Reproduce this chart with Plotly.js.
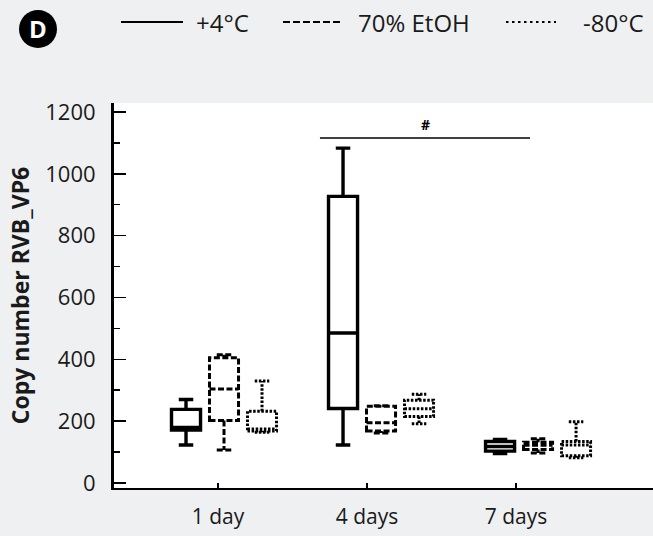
<!DOCTYPE html>
<html><head><meta charset="utf-8">
<script src="https://cdn.plot.ly/plotly-3.0.1.min.js"></script>
<style>html,body{margin:0;padding:0;background:#eff0f2;} #chart{width:653px;height:536px;}</style>
</head><body><div id="chart"></div>
<script>
// ---- data ----
const days = ['1 day', '4 days', '7 days'];
const seriesNames = ['+4°C', '70% EtOH', '-80°C'];

const lower_4C   = [123, 123, 95];
const q1_4C      = [171, 241, 103];
const median_4C  = [180, 485, 118];
const q3_4C      = [238, 927, 134];
const upper_4C   = [270, 1083, 141];

const lower_EtOH  = [107, 162, 97];
const q1_EtOH     = [202, 168, 108];
const median_EtOH = [304, 195, 122];
const q3_EtOH     = [405, 248, 132];
const upper_EtOH  = [415, 250, 143];

const lower_80   = [164, 192, 82];
const q1_80      = [168, 215, 88];
const median_80  = [175, 240, 123];
const q3_80      = [232, 268, 134];
const upper_80   = [330, 287, 198];

const sigLabel = '#';

// ---- styling ----
const FONT = 'Open Sans, sans-serif';
const W = 653, H = 536;
const M = {l: 114, r: 0, t: 103, b: 48};
const PW = W - M.l - M.r, PH = H - M.t - M.b;
const px = v => (v - M.l) / PW;       // pixel -> paper x
const py = v => (H - M.b - v) / PH;   // pixel -> paper y

const dashes = ['none', '6px,2.5px', '2.5px,1.6px'];
const widths = [3.4, 3, 3];

function boxTrace(i, lf, q1, med, q3, uf) {
  return {
    type: 'box', name: seriesNames[i], x: days,
    lowerfence: lf, q1: q1, median: med, q3: q3, upperfence: uf,
    line: {color: 'black', width: widths[i]}, fillcolor: 'white',
    whiskerwidth: 0.5, boxpoints: false, showlegend: false, hoverinfo: 'skip'
  };
}

const data = [
  boxTrace(0, lower_4C, q1_4C, median_4C, q3_4C, upper_4C),
  boxTrace(1, lower_EtOH, q1_EtOH, median_EtOH, q3_EtOH, upper_EtOH),
  boxTrace(2, lower_80, q1_80, median_80, q3_80, upper_80),
  {type: 'scatter', x: [], y: [], xaxis: 'x2', yaxis: 'y', showlegend: false, hoverinfo: 'skip'}
];

// legend drawn as shapes + annotations
const legendY = 22;
const legendItems = [
  {x0: 121, x1: 183, tx: 194, dash: 'solid'},
  {x0: 283, x1: 342, tx: 356, dash: '7px,3px'},
  {x0: 506, x1: 556, tx: 581, dash: '2.5px,3.5px'}
];

const shapes = [
  {type: 'line', xref: 'x', yref: 'y', x0: 0.611, x1: 1.949, y0: 1116, y1: 1116,
   line: {color: 'black', width: 1.5}},
  {type: 'circle', xref: 'paper', yref: 'paper', x0: px(19), x1: px(57), y0: py(48), y1: py(10),
   fillcolor: 'black', line: {color: 'black', width: 0}}
];
const annotations = [
  {xref: 'x', yref: 'y', x: 1.28, y: 1116, yanchor: 'bottom', yshift: 2, text: '<b>' + sigLabel + '</b>',
   showarrow: false, font: {family: FONT, size: 14, color: 'black'}},
  {xref: 'paper', yref: 'paper', x: px(38), y: py(29), text: '<b>D</b>', showarrow: false,
   xanchor: 'center', yanchor: 'middle', font: {family: FONT, size: 24, color: 'white'}}
];
legendItems.forEach((it, i) => {
  shapes.push({type: 'line', xref: 'paper', yref: 'paper', x0: px(it.x0), x1: px(it.x1),
    y0: py(legendY), y1: py(legendY), line: {color: 'black', width: 2.2, dash: it.dash}});
  annotations.push({xref: 'paper', yref: 'paper', x: px(it.tx), y: py(legendY), xanchor: 'left',
    yanchor: 'middle', text: seriesNames[i], showarrow: false,
    font: {family: FONT, size: 24, color: '#1a1a1a'}});
});

const layout = {
  width: W, height: H, margin: M,
  paper_bgcolor: '#eff0f2', plot_bgcolor: 'white',
  font: {family: FONT, color: '#1a1a1a'},
  showlegend: false,
  boxmode: 'group', boxgap: 0.274, boxgroupgap: 0.236,
  xaxis: {type: 'category', range: [-0.7006, 2.732], showline: true, linewidth: 2, linecolor: 'black',
    showticklabels: false, ticks: '', showgrid: false, zeroline: false, fixedrange: true},
  xaxis2: {overlaying: 'x', anchor: 'y', side: 'bottom', range: [-0.698, 2.919],
    tickvals: [0, 1, 2], ticktext: days, ticks: 'inside', ticklen: 5, tickwidth: 2, tickcolor: 'black',
    showline: false, showgrid: false, zeroline: false, ticklabelstandoff: 14,
    tickfont: {family: FONT, size: 21, color: '#1a1a1a'}},
  yaxis: {range: [-16.2, 1229], tick0: 0, dtick: 200, ticks: 'inside', ticklen: 12, tickwidth: 1.5,
    tickcolor: 'black', showline: true, linewidth: 3, linecolor: 'black', showgrid: false, zeroline: false,
    ticklabelstandoff: 11, tickfont: {family: FONT, size: 22, color: '#1a1a1a'},
    minor: {dtick: 100, ticks: 'inside', ticklen: 6, tickwidth: 1.5, tickcolor: 'black', showgrid: false},
    title: {text: 'Copy number RVB_VP6', standoff: 10,
      font: {family: FONT, size: 23, weight: 'bold', color: '#1a1a1a'}}},
  shapes: shapes, annotations: annotations
};

Plotly.newPlot('chart', data, layout, {displayModeBar: false, staticPlot: true}).then(gd => {
  gd.querySelectorAll('.boxlayer .trace').forEach((t, i) => {
    t.querySelectorAll('path.box').forEach(p => { p.style.strokeDasharray = dashes[i] || 'none'; });
  });
});
</script>
</body></html>
